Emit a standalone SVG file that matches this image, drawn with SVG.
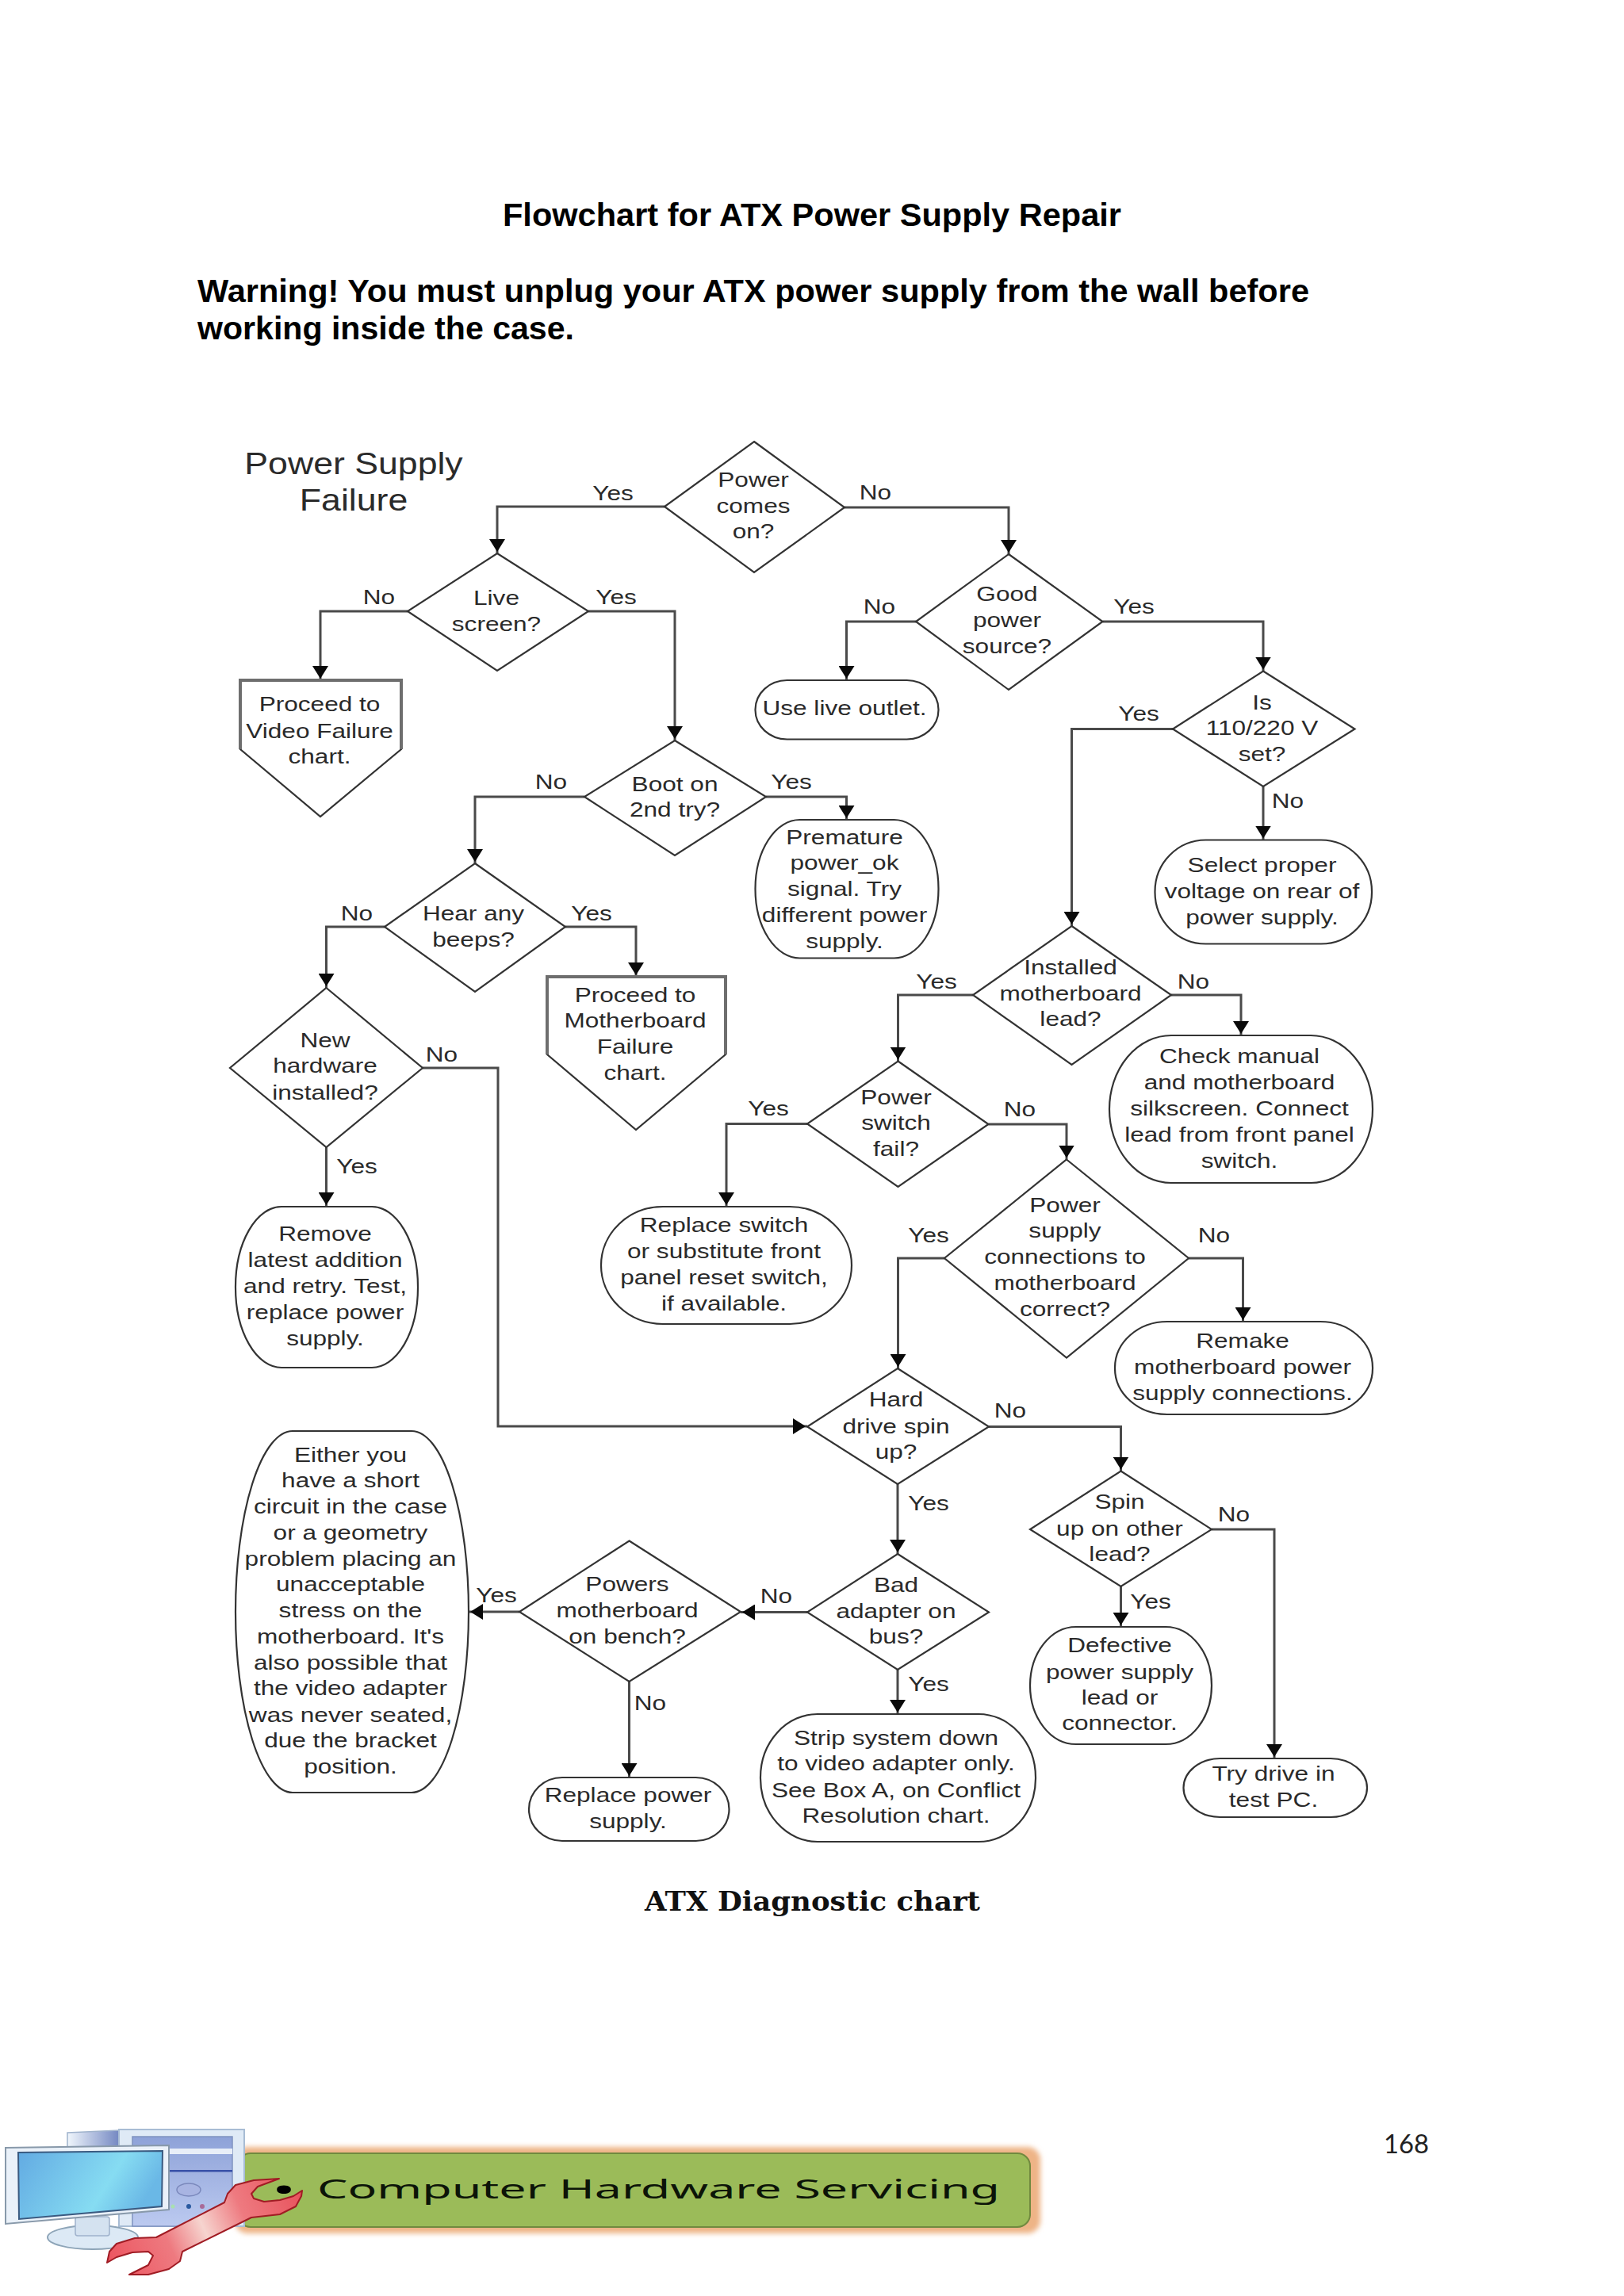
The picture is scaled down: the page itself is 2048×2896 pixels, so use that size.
<svg xmlns="http://www.w3.org/2000/svg" width="2048" height="2896" viewBox="0 0 2048 2896">
<style>
.t{font-family:"Liberation Sans",Arial,sans-serif;font-size:26px;fill:#2a2a2a;text-anchor:middle}
.big{font-size:38px}
.shape{fill:#fff;stroke:#333;stroke-width:2.2}
.edge{fill:none;stroke:#6e6e6e;stroke-width:4}
.c{fill:none;stroke:#4a4a4a;stroke-width:3;marker-end:url(#ah)}
.h{font-family:"Liberation Sans",Arial,sans-serif;font-weight:700;font-size:41px;fill:#000}
.cap{font-family:"DejaVu Serif",serif;font-weight:700;font-size:34px;fill:#111}
</style>
<defs>
<marker id="ah" markerUnits="userSpaceOnUse" markerWidth="18" markerHeight="20" refX="18" refY="10" orient="auto"><path d="M0,0L16,10L0,20z" fill="#0a0a0a"/></marker>
<linearGradient id="scr" x1="0" y1="0" x2="1" y2="0.3"><stop offset="0" stop-color="#62aae2"/><stop offset="0.7" stop-color="#86dcf2"/><stop offset="1" stop-color="#6ab8e6"/></linearGradient>
<linearGradient id="tow" x1="0" y1="0" x2="0" y2="1"><stop offset="0" stop-color="#8ea2d8"/><stop offset="1" stop-color="#bccaf0"/></linearGradient>
<linearGradient id="back" x1="0" y1="0" x2="1" y2="0"><stop offset="0" stop-color="#f0f6fc"/><stop offset="1" stop-color="#7488c2"/></linearGradient>
<linearGradient id="wr" gradientUnits="userSpaceOnUse" x1="140" y1="2860" x2="380" y2="2750"><stop offset="0" stop-color="#ec5560"/><stop offset="0.3" stop-color="#ee7a80"/><stop offset="0.48" stop-color="#f6d4cf"/><stop offset="0.68" stop-color="#ee7a80"/><stop offset="1" stop-color="#e8505a"/></linearGradient>
<filter id="glow" x="-5%" y="-30%" width="110%" height="160%"><feGaussianBlur stdDeviation="3"/></filter>
</defs>
<rect width="2048" height="2896" fill="#fff"/>

<text class="h" x="634" y="285" textLength="780" lengthAdjust="spacingAndGlyphs">Flowchart for ATX Power Supply Repair</text>
<text class="h" x="249" y="381" textLength="1402" lengthAdjust="spacingAndGlyphs">Warning! You must unplug your ATX power supply from the wall before</text>
<text class="h" x="249" y="428" textLength="475" lengthAdjust="spacingAndGlyphs">working inside the case.</text>

<text id="chart-title" class="t big" transform="matrix(1.175 0 0 1 446 0)"><tspan x="0" y="598">Power Supply</tspan><tspan x="0" y="644">Failure</tspan></text>

<g id="connectors">
<path class="c" d="M838,639H627V698"/>
<path class="c" d="M1065,640H1272V699"/>
<path class="c" d="M514,771H404V858"/>
<path class="c" d="M742,771H851V934"/>
<path class="c" d="M1155,784H1067.5V858"/>
<path class="c" d="M1390.5,784H1593V846.5"/>
<path class="c" d="M737,1005H599V1089"/>
<path class="c" d="M966,1005H1067.5V1034"/>
<path class="c" d="M1479,919.5H1351.5V1168"/>
<path class="c" d="M1593,992V1059.5"/>
<path class="c" d="M485,1169H411.5V1246"/>
<path class="c" d="M713,1169H802V1232"/>
<path class="c" d="M533,1347H628V1799H1018"/>
<path class="c" d="M411.5,1447V1522"/>
<path class="c" d="M1227,1255H1132.5V1338.5"/>
<path class="c" d="M1477,1255H1565V1306"/>
<path class="c" d="M1018,1417.5H916V1522"/>
<path class="c" d="M1246.5,1418H1345V1462.5"/>
<path class="c" d="M1191,1587H1132.5V1726"/>
<path class="c" d="M1499,1587H1567.5V1667"/>
<path class="c" d="M1247,1799.5H1413.5V1855.5"/>
<path class="c" d="M1132,1872V1960"/>
<path class="c" d="M1528,1929H1607V2218"/>
<path class="c" d="M1413.5,2001V2052"/>
<path class="c" d="M1018,2033.5H934"/>
<path class="c" d="M1132,2106V2162"/>
<path class="c" d="M655,2033H591"/>
<path class="c" d="M793.5,2121V2242"/>
<g id="connector-labels">
<text class="t" transform="matrix(1.215 0 0 1 773 631)">Yes</text>
<text class="t" transform="matrix(1.215 0 0 1 1104 630)">No</text>
<text class="t" transform="matrix(1.215 0 0 1 478 762)">No</text>
<text class="t" transform="matrix(1.215 0 0 1 777 762)">Yes</text>
<text class="t" transform="matrix(1.215 0 0 1 1109 774)">No</text>
<text class="t" transform="matrix(1.215 0 0 1 1430 774)">Yes</text>
<text class="t" transform="matrix(1.215 0 0 1 1436 908.5)">Yes</text>
<text class="t" transform="matrix(1.215 0 0 1 695 995)">No</text>
<text class="t" transform="matrix(1.215 0 0 1 998 995)">Yes</text>
<text class="t" transform="matrix(1.215 0 0 1 1624 1019)">No</text>
<text class="t" transform="matrix(1.215 0 0 1 450 1161)">No</text>
<text class="t" transform="matrix(1.215 0 0 1 746 1161)">Yes</text>
<text class="t" transform="matrix(1.215 0 0 1 1181 1247)">Yes</text>
<text class="t" transform="matrix(1.215 0 0 1 1505 1247)">No</text>
<text class="t" transform="matrix(1.215 0 0 1 557 1339)">No</text>
<text class="t" transform="matrix(1.215 0 0 1 969 1407)">Yes</text>
<text class="t" transform="matrix(1.215 0 0 1 1286 1408)">No</text>
<text class="t" transform="matrix(1.215 0 0 1 450 1480)">Yes</text>
<text class="t" transform="matrix(1.215 0 0 1 1171 1567)">Yes</text>
<text class="t" transform="matrix(1.215 0 0 1 1531 1567)">No</text>
<text class="t" transform="matrix(1.215 0 0 1 1274 1788)">No</text>
<text class="t" transform="matrix(1.215 0 0 1 1171 1905)">Yes</text>
<text class="t" transform="matrix(1.215 0 0 1 1556 1919)">No</text>
<text class="t" transform="matrix(1.215 0 0 1 979 2022)">No</text>
<text class="t" transform="matrix(1.215 0 0 1 626 2021)">Yes</text>
<text class="t" transform="matrix(1.215 0 0 1 1451 2029)">Yes</text>
<text class="t" transform="matrix(1.215 0 0 1 1171 2133)">Yes</text>
<text class="t" transform="matrix(1.215 0 0 1 820 2157)">No</text>
</g>
</g>

<g id="power-comes-on"><polygon class="shape" points="951,557 1065,640 951,722 838,639"/>
<text class="t" transform="matrix(1.215 0 0 1 950 0)"><tspan x="0" y="614">Power</tspan><tspan x="0" y="647">comes</tspan><tspan x="0" y="679">on?</tspan></text></g>

<g id="live-screen"><polygon class="shape" points="627,698 742,771 627,846 514,771"/>
<text class="t" transform="matrix(1.215 0 0 1 626 0)"><tspan x="0" y="763">Live</tspan><tspan x="0" y="796">screen?</tspan></text></g>

<g id="good-power"><polygon class="shape" points="1272,699 1390.5,784 1272,870 1155,784"/>
<text class="t" transform="matrix(1.215 0 0 1 1270 0)"><tspan x="0" y="758">Good</tspan><tspan x="0" y="791">power</tspan><tspan x="0" y="824">source?</tspan></text></g>

<g id="video-failure"><polygon class="shape" points="303,858 506,858 506,945 404,1030 303,945"/>
<path class="edge" d="M303,945V858H506V945"/>
<text class="t" transform="matrix(1.215 0 0 1 403 0)"><tspan x="0" y="897">Proceed to</tspan><tspan x="0" y="931">Video Failure</tspan><tspan x="0" y="963">chart.</tspan></text></g>

<g id="live-outlet"><rect class="shape" x="952.5" y="858" width="231" height="74.5" rx="40" ry="37"/>
<text class="t" transform="matrix(1.215 0 0 1 1065 902)">Use live outlet.</text></g>

<g id="voltage-set"><polygon class="shape" points="1593,846.5 1708.5,919.5 1593,992 1479,919.5"/>
<text class="t" transform="matrix(1.215 0 0 1 1591.5 0)"><tspan x="0" y="895">Is</tspan><tspan x="0" y="927">110/220 V</tspan><tspan x="0" y="960">set?</tspan></text></g>

<g id="boot-2nd"><polygon class="shape" points="851,934 966,1005 851,1079 737,1005"/>
<text class="t" transform="matrix(1.215 0 0 1 851 0)"><tspan x="0" y="998">Boot on</tspan><tspan x="0" y="1030">2nd try?</tspan></text></g>

<g id="premature"><rect class="shape" x="952.5" y="1034" width="231" height="174.5" rx="56" ry="87"/>
<text class="t" transform="matrix(1.215 0 0 1 1065 0)"><tspan x="0" y="1065">Premature</tspan><tspan x="0" y="1097">power_ok</tspan><tspan x="0" y="1130.5">signal. Try</tspan><tspan x="0" y="1163">different power</tspan><tspan x="0" y="1196">supply.</tspan></text></g>

<g id="select-voltage"><rect class="shape" x="1456.5" y="1059.5" width="273.5" height="131" rx="64" ry="65"/>
<text class="t" transform="matrix(1.215 0 0 1 1591.5 0)"><tspan x="0" y="1100">Select proper</tspan><tspan x="0" y="1133">voltage on rear of</tspan><tspan x="0" y="1166">power supply.</tspan></text></g>

<g id="hear-beeps"><polygon class="shape" points="599,1089 713,1169 599,1251 485,1169"/>
<text class="t" transform="matrix(1.215 0 0 1 597 0)"><tspan x="0" y="1161">Hear any</tspan><tspan x="0" y="1194">beeps?</tspan></text></g>

<g id="motherboard-failure"><polygon class="shape" points="690,1232 915,1232 915,1330 802,1425 690,1330"/>
<path class="edge" d="M690,1330V1232H915V1330"/>
<text class="t" transform="matrix(1.215 0 0 1 801 0)"><tspan x="0" y="1264">Proceed to</tspan><tspan x="0" y="1296">Motherboard</tspan><tspan x="0" y="1329">Failure</tspan><tspan x="0" y="1362">chart.</tspan></text></g>

<g id="installed-lead"><polygon class="shape" points="1351.5,1168 1477,1255 1351.5,1343 1227,1255"/>
<text class="t" transform="matrix(1.215 0 0 1 1350 0)"><tspan x="0" y="1229">Installed</tspan><tspan x="0" y="1262">motherboard</tspan><tspan x="0" y="1294">lead?</tspan></text></g>

<g id="check-manual"><rect class="shape" x="1399" y="1306" width="332" height="186" rx="78" ry="93"/>
<text class="t" transform="matrix(1.215 0 0 1 1563 0)"><tspan x="0" y="1341">Check manual</tspan><tspan x="0" y="1374">and motherboard</tspan><tspan x="0" y="1407">silkscreen. Connect</tspan><tspan x="0" y="1440">lead from front panel</tspan><tspan x="0" y="1473">switch.</tspan></text></g>

<g id="new-hardware"><polygon class="shape" points="411.5,1246 533,1347 411.5,1447 290,1347"/>
<text class="t" transform="matrix(1.215 0 0 1 410 0)"><tspan x="0" y="1321">New</tspan><tspan x="0" y="1353">hardware</tspan><tspan x="0" y="1387">installed?</tspan></text></g>

<g id="power-switch-fail"><polygon class="shape" points="1132.5,1338.5 1246.5,1418 1132.5,1497 1018,1417.5"/>
<text class="t" transform="matrix(1.215 0 0 1 1130 0)"><tspan x="0" y="1393">Power</tspan><tspan x="0" y="1425">switch</tspan><tspan x="0" y="1458">fail?</tspan></text></g>

<g id="remove-latest"><rect class="shape" x="297" y="1522" width="230" height="203" rx="58" ry="101"/>
<text class="t" transform="matrix(1.215 0 0 1 410 0)"><tspan x="0" y="1565">Remove</tspan><tspan x="0" y="1598">latest addition</tspan><tspan x="0" y="1631">and retry. Test,</tspan><tspan x="0" y="1664">replace power</tspan><tspan x="0" y="1697">supply.</tspan></text></g>

<g id="replace-switch"><rect class="shape" x="758" y="1522" width="316" height="148" rx="78" ry="74"/>
<text class="t" transform="matrix(1.215 0 0 1 913 0)"><tspan x="0" y="1554">Replace switch</tspan><tspan x="0" y="1587">or substitute front</tspan><tspan x="0" y="1620">panel reset switch,</tspan><tspan x="0" y="1653">if available.</tspan></text></g>

<g id="ps-connections"><polygon class="shape" points="1345,1462.5 1499,1587 1345,1712.5 1191,1587"/>
<text class="t" transform="matrix(1.215 0 0 1 1343 0)"><tspan x="0" y="1529">Power</tspan><tspan x="0" y="1561">supply</tspan><tspan x="0" y="1594">connections to</tspan><tspan x="0" y="1627">motherboard</tspan><tspan x="0" y="1660">correct?</tspan></text></g>

<g id="remake"><rect class="shape" x="1406" y="1667" width="325" height="117" rx="66" ry="58"/>
<text class="t" transform="matrix(1.215 0 0 1 1567 0)"><tspan x="0" y="1700">Remake</tspan><tspan x="0" y="1733">motherboard power</tspan><tspan x="0" y="1766">supply connections.</tspan></text></g>

<g id="hard-drive"><polygon class="shape" points="1132,1726 1247,1799.5 1132,1872 1018,1799.5"/>
<text class="t" transform="matrix(1.215 0 0 1 1130 0)"><tspan x="0" y="1774">Hard</tspan><tspan x="0" y="1808">drive spin</tspan><tspan x="0" y="1840">up?</tspan></text></g>

<g id="either-short"><rect class="shape" x="297" y="1805" width="294" height="456" rx="72" ry="228"/>
<text class="t" transform="matrix(1.215 0 0 1 442 0)"><tspan x="0" y="1844">Either you</tspan><tspan x="0" y="1876">have a short</tspan><tspan x="0" y="1909">circuit in the case</tspan><tspan x="0" y="1942">or a geometry</tspan><tspan x="0" y="1975">problem placing an</tspan><tspan x="0" y="2007.5">unacceptable</tspan><tspan x="0" y="2040">stress on the</tspan><tspan x="0" y="2073.5">motherboard. It's</tspan><tspan x="0" y="2106">also possible that</tspan><tspan x="0" y="2138.5">the video adapter</tspan><tspan x="0" y="2172">was never seated,</tspan><tspan x="0" y="2204.5">due the bracket</tspan><tspan x="0" y="2237.5">position.</tspan></text></g>

<g id="powers-bench"><polygon class="shape" points="793.5,1943.5 934,2033 793.5,2121 655,2033"/>
<text class="t" transform="matrix(1.215 0 0 1 791 0)"><tspan x="0" y="2007.5">Powers</tspan><tspan x="0" y="2040">motherboard</tspan><tspan x="0" y="2073.5">on bench?</tspan></text></g>

<g id="bad-adapter"><polygon class="shape" points="1132,1960 1247,2033.5 1132,2106 1018,2033.5"/>
<text class="t" transform="matrix(1.215 0 0 1 1130 0)"><tspan x="0" y="2008.5">Bad</tspan><tspan x="0" y="2041">adapter on</tspan><tspan x="0" y="2073">bus?</tspan></text></g>

<g id="spin-up"><polygon class="shape" points="1413.5,1855.5 1528,1929 1413.5,2001 1299,1929"/>
<text class="t" transform="matrix(1.215 0 0 1 1412 0)"><tspan x="0" y="1903">Spin</tspan><tspan x="0" y="1937">up on other</tspan><tspan x="0" y="1969">lead?</tspan></text></g>

<g id="defective"><rect class="shape" x="1299" y="2052" width="229" height="148" rx="58" ry="74"/>
<text class="t" transform="matrix(1.215 0 0 1 1412 0)"><tspan x="0" y="2084">Defective</tspan><tspan x="0" y="2118">power supply</tspan><tspan x="0" y="2150">lead or</tspan><tspan x="0" y="2182">connector.</tspan></text></g>

<g id="strip-system"><rect class="shape" x="959" y="2162" width="347" height="161" rx="72" ry="80"/>
<text class="t" transform="matrix(1.215 0 0 1 1130 0)"><tspan x="0" y="2201">Strip system down</tspan><tspan x="0" y="2233.5">to video adapter only.</tspan><tspan x="0" y="2267">See Box A, on Conflict</tspan><tspan x="0" y="2299">Resolution chart.</tspan></text></g>

<g id="try-drive"><rect class="shape" x="1492.5" y="2218" width="231.5" height="74" rx="46" ry="37"/>
<text class="t" transform="matrix(1.215 0 0 1 1606 0)"><tspan x="0" y="2246">Try drive in</tspan><tspan x="0" y="2279">test PC.</tspan></text></g>

<g id="replace-power"><rect class="shape" x="667" y="2242" width="252.5" height="80" rx="42" ry="40"/>
<text class="t" transform="matrix(1.215 0 0 1 792 0)"><tspan x="0" y="2273">Replace power</tspan><tspan x="0" y="2306">supply.</tspan></text></g>

<text class="cap" x="813" y="2410" textLength="423" lengthAdjust="spacingAndGlyphs">ATX Diagnostic chart</text>

<text x="1745" y="2716" font-family="Lato,'Open Sans',sans-serif" font-size="33" fill="#222" textLength="57" lengthAdjust="spacingAndGlyphs">168</text>

<g id="banner">
<rect x="296" y="2708" width="1016" height="109" rx="16" fill="#eeb486" filter="url(#glow)"/>
<rect x="300" y="2716" width="999" height="93" rx="16" fill="#9bbb59" stroke="#71893f" stroke-width="2"/>
<text font-family="'Noto Sans',sans-serif" font-size="42" fill="#000" text-anchor="middle" transform="matrix(1.9 0 0 1 358 2777)">•</text>
<text x="400" y="2773" font-family="'Noto Sans',sans-serif" font-size="32" fill="#0c1408" textLength="861" lengthAdjust="spacingAndGlyphs">Computer Hardware Servicing</text>
</g>

<g id="computer-icon">
<path d="M85,2690L150,2687V2712H85z" fill="url(#back)" stroke="#9fb2cc" stroke-width="1.5"/>
<rect x="150" y="2686" width="158" height="122" fill="#dfeaf6" stroke="#a8bcd4" stroke-width="2"/>
<rect x="167" y="2695" width="126" height="113" fill="url(#tow)" stroke="#7f92c0" stroke-width="1.5"/>
<rect x="167" y="2710" width="126" height="7" fill="#e8eef8"/>
<rect x="167" y="2737" width="126" height="2.5" fill="#3850a8"/>
<ellipse cx="238" cy="2762" rx="15" ry="8" fill="#a8b4e2" stroke="#7a88bc" stroke-width="1.5"/>
<circle cx="218" cy="2783" r="2.5" fill="#a8e0b0"/>
<circle cx="238" cy="2783" r="3" fill="#2a5aa0"/>
<circle cx="255" cy="2783" r="3" fill="#a86a98"/>
<ellipse cx="117" cy="2822" rx="57" ry="15" fill="#dce9f5" stroke="#8ea5b8" stroke-width="2"/>
<rect x="95" y="2796" width="43" height="24" rx="3" fill="#d4e2f0" stroke="#9fb2cc" stroke-width="1.5"/>
<polygon points="7,2709 213,2706 213,2787 7,2805" fill="#eaf1f9" stroke="#8899aa" stroke-width="2"/>
<polygon points="23,2715 205,2713 204,2783 24,2799" fill="url(#scr)" stroke="#3a5a80" stroke-width="2"/>
<path d="M352,2748L320,2750L297,2756L287,2767L283,2778L197,2822L170,2823L147,2830L138,2840L135,2854L147,2847L167,2841L187,2840L193,2845L187,2857L163,2869L187,2869L213,2862L227,2852L230,2840L317,2797L353,2793L373,2783L380,2770L381,2763L370,2770L353,2775L333,2777L320,2773L317,2767L325,2758z" fill="url(#wr)" stroke="#a01c24" stroke-width="2" stroke-linejoin="round"/>
</g>
</svg>
